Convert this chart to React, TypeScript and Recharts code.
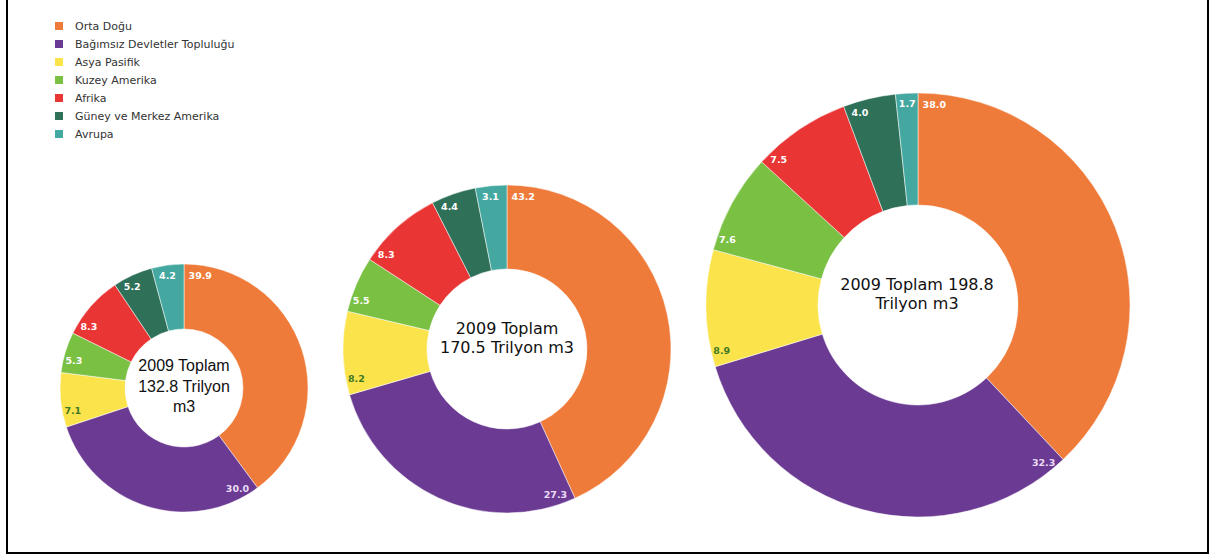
import React from 'react';
import { PieChart, Pie, Cell, Legend } from 'recharts';

const categories = [
  'Orta Doğu',
  'Bağımsız Devletler Topluluğu',
  'Asya Pasifik',
  'Kuzey Amerika',
  'Afrika',
  'Güney ve Merkez Amerika',
  'Avrupa',
];
const colors = ['#EF7B3A', '#6B3A93', '#FBE34B', '#79C043', '#EA3535', '#2E7058', '#45A8A0'];
const labelColors = ['#ffffff', '#EADCF5', '#3E7A26', '#ffffff', '#ffffff', '#ffffff', '#ffffff'];

const values1 = [39.9, 30.0, 7.1, 5.3, 8.3, 5.2, 4.2];
const values2 = [43.2, 27.3, 8.2, 5.5, 8.3, 4.4, 3.1];
const values3 = [38.0, 32.3, 8.9, 7.6, 7.5, 4.0, 1.7];

const centerText1 = ['2009 Toplam', '132.8 Trilyon', 'm3'];
const centerText2 = ['2009 Toplam', '170.5 Trilyon m3'];
const centerText3 = ['2009 Toplam 198.8', 'Trilyon m3'];

const build = (vals: number[]) => categories.map((name, i) => ({ name, value: vals[i] }));
const data1 = build(values1);
const data2 = build(values2);
const data3 = build(values3);

const RAD = Math.PI / 180;

const renderLabel = (props: any) => {
  const { cx, cy, startAngle, endAngle, outerRadius, value, index } = props;
  const txt = Number(value).toFixed(1);
  const w = txt.length * 5.9;
  const r = outerRadius - 10.5;
  const span = Math.abs(startAngle - endAngle);
  const offDeg = Math.min(span / 2, ((w / 2 + 4.5) / r) / RAD);
  const ang = startAngle - offDeg;
  const x = cx + r * Math.cos(-ang * RAD);
  const y = cy + r * Math.sin(-ang * RAD);
  return (
    <text
      x={x}
      y={y}
      textAnchor="middle"
      dominantBaseline="central"
      fill={labelColors[index]}
      fontFamily="DejaVu Sans, Verdana, sans-serif"
      fontWeight="bold"
      fontSize={9.5}
    >
      {txt}
    </text>
  );
};

const LegendContent = () => (
  <div style={{ fontFamily: 'DejaVu Sans, Verdana, sans-serif', fontSize: 11, color: '#333' }}>
    {categories.map((c, i) => (
      <div key={c} style={{ display: 'flex', alignItems: 'center', height: 18 }}>
        <span style={{ display: 'inline-block', width: 8, height: 8, background: colors[i], marginRight: 12 }} />
        <span>{c}</span>
      </div>
    ))}
  </div>
);

export default function App() {
  const pies = [
    { data: data1, cx: 184, cy: 388, inner: 59, outer: 124 },
    { data: data2, cx: 507, cy: 349, inner: 80, outer: 164 },
    { data: data3, cx: 918, cy: 305, inner: 100, outer: 212 },
  ];
  return (
    <div style={{ position: 'fixed', left: 0, top: 0, width: 1211, height: 557, background: '#fff' }}>
      <PieChart width={1211} height={557} margin={{ top: 0, left: 0, right: 0, bottom: 0 }}>
        <Legend
          layout="vertical"
          align="center"
          verticalAlign="middle"
          content={<LegendContent />}
          wrapperStyle={{ left: 55, top: 17, width: 'auto' }}
        />
        {pies.map((p, k) => (
          <Pie
            key={k}
            data={p.data}
            dataKey="value"
            nameKey="name"
            cx={p.cx}
            cy={p.cy}
            innerRadius={p.inner}
            outerRadius={p.outer}
            startAngle={90}
            endAngle={-270}
            stroke="#fff"
            strokeWidth={0.5}
            label={renderLabel}
            labelLine={false}
            isAnimationActive={false}
          >
            {p.data.map((d, i) => (
              <Cell key={d.name} fill={colors[i]} />
            ))}
          </Pie>
        ))}
        <g>
          {centerText1.map((t, i) => (
            <text key={'a' + i} x={184} y={388 - 17 + i * 20.5} textAnchor="middle" fontFamily="Liberation Sans, Arial, sans-serif" fontSize={16} fill="#111">
              {t}
            </text>
          ))}
          {centerText2.map((t, i) => (
            <text key={'b' + i} x={507} y={349 - 15 + i * 19} textAnchor="middle" fontFamily="DejaVu Sans, Verdana, sans-serif" fontSize={16} fill="#111">
              {t}
            </text>
          ))}
          {centerText3.map((t, i) => (
            <text key={'c' + i} x={917} y={305 - 15 + i * 18.5} textAnchor="middle" fontFamily="DejaVu Sans, Verdana, sans-serif" fontSize={16} fill="#111">
              {t}
            </text>
          ))}
        </g>
      </PieChart>
      <div
        style={{
          position: 'absolute',
          left: 6,
          top: -5,
          width: 1203,
          height: 559,
          boxSizing: 'border-box',
          border: '2px solid #000',
          pointerEvents: 'none',
        }}
      />
    </div>
  );
}
